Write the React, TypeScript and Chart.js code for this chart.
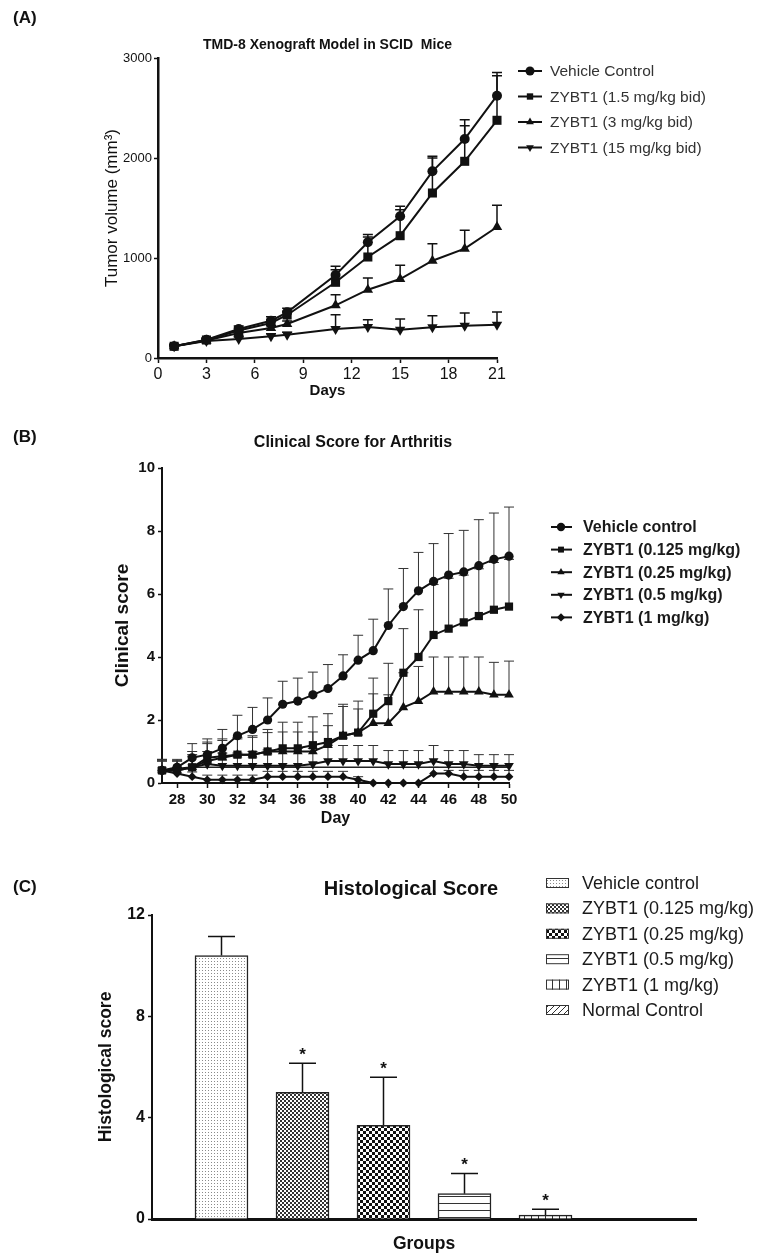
import React, { useEffect, useRef } from 'react';
import { Chart, registerables } from 'chart.js';

Chart.register(...registerables);

const FONT = '"Liberation Sans", Arial, Helvetica, sans-serif';
Chart.defaults.font.family = FONT;
Chart.defaults.color = '#1a1a1a';

/* ---------------- Panel A data ---------------- */
const titleA = 'TMD-8 Xenograft Model in SCID  Mice';
const seriesNamesA = ['Vehicle Control', 'ZYBT1 (1.5 mg/kg bid)', 'ZYBT1 (3 mg/kg bid)', 'ZYBT1 (15 mg/kg bid)'];
const daysA = [1, 3, 5, 7, 8, 11, 13, 15, 17, 19, 21];
const vehicleA = [117, 183, 290, 373, 457, 830, 1157, 1417, 1867, 2190, 2623];
const vehicleErrA = [10, 20, 30, 40, 40, 87, 77, 100, 150, 193, 233];
const zybtLowA = [117, 180, 275, 350, 430, 757, 1010, 1223, 1650, 1967, 2377];
const zybtLowErrA = [10, 15, 25, 30, 35, 126, 200, 260, 350, 356, 446];
const zybtMidA = [117, 175, 250, 300, 340, 527, 683, 790, 973, 1093, 1310];
const zybtMidErrA = [10, 15, 20, 25, 30, 106, 117, 137, 170, 184, 217];
const zybtHighA = [117, 170, 190, 217, 233, 290, 310, 283, 307, 323, 333];
const zybtHighErrA = [10, 15, 20, 25, 25, 143, 73, 107, 116, 127, 127];
const xTicksA = [0, 3, 6, 9, 12, 15, 18, 21];
const yTicksA = [0, 1000, 2000, 3000];

/* ---------------- Panel B data ---------------- */
const titleB = 'Clinical Score for Arthritis';
const seriesNamesB = ['Vehicle control', 'ZYBT1 (0.125 mg/kg)', 'ZYBT1 (0.25 mg/kg)', 'ZYBT1 (0.5 mg/kg)', 'ZYBT1 (1 mg/kg)'];
const daysB = [27, 28, 29, 30, 31, 32, 33, 34, 35, 36, 37, 38, 39, 40, 41, 42, 43, 44, 45, 46, 47, 48, 49, 50];
const vehicleB = [0.4, 0.5, 0.8, 0.9, 1.1, 1.5, 1.7, 2.0, 2.5, 2.6, 2.8, 3.0, 3.4, 3.9, 4.2, 5.0, 5.6, 6.1, 6.4, 6.6, 6.7, 6.9, 7.1, 7.2];
const vehicleErrB = [0.3, 0.25, 0.45, 0.5, 0.6, 0.65, 0.7, 0.7, 0.73, 0.73, 0.72, 0.76, 0.67, 0.79, 1.0, 1.16, 1.21, 1.22, 1.2, 1.32, 1.32, 1.46, 1.47, 1.56];
const dose0125B = [0.4, 0.45, 0.5, 0.8, 0.85, 0.9, 0.9, 1.0, 1.1, 1.1, 1.2, 1.3, 1.5, 1.6, 2.2, 2.6, 3.5, 4.0, 4.7, 4.9, 5.1, 5.3, 5.5, 5.6];
const dose0125ErrB = [0.35, 0.25, 0.5, 0.5, 0.55, 0.55, 0.6, 0.7, 0.83, 0.83, 0.9, 0.9, 1.0, 1.0, 1.13, 1.2, 1.4, 1.5, 1.6, 1.6, 1.5, 1.5, 1.5, 1.5];
const dose025B = [0.4, 0.4, 0.5, 0.7, 0.8, 0.9, 0.9, 1.0, 1.0, 1.0, 1.0, 1.2, 1.5, 1.6, 1.9, 1.9, 2.4, 2.6, 2.9, 2.9, 2.9, 2.9, 2.8, 2.8];
const dose025ErrB = [0.3, 0.3, 0.4, 0.55, 0.55, 0.5, 0.55, 0.6, 0.62, 0.62, 0.62, 0.62, 0.93, 0.75, 0.93, 0.9, 1.1, 1.1, 1.1, 1.1, 1.1, 1.1, 1.03, 1.07];
const dose05B = [0.4, 0.4, 0.5, 0.6, 0.55, 0.55, 0.55, 0.55, 0.55, 0.55, 0.6, 0.7, 0.7, 0.7, 0.7, 0.6, 0.6, 0.6, 0.7, 0.6, 0.6, 0.55, 0.55, 0.55];
const dose05ErrB = [0.35, 0.3, 0.35, 0.4, 0.4, 0.4, 0.45, 0.5, 0.55, 0.55, 0.5, 0.5, 0.49, 0.49, 0.49, 0.43, 0.43, 0.43, 0.49, 0.43, 0.43, 0.35, 0.35, 0.35];
const dose1B = [0.4, 0.3, 0.2, 0.1, 0.1, 0.1, 0.1, 0.2, 0.2, 0.2, 0.2, 0.2, 0.2, 0.1, 0, 0, 0, 0, 0.3, 0.3, 0.2, 0.2, 0.2, 0.2];
const dose1ErrB = [0.3, 0.2, 0.15, 0.15, 0.15, 0.15, 0.15, 0.17, 0.17, 0.17, 0.17, 0.17, 0.17, 0.1, 0, 0, 0, 0, 0.2, 0.1, 0.2, 0.2, 0.2, 0.2];
const flatLineB = [null, null, 0.5, 0.5, 0.5, 0.5, 0.5, 0.5, 0.5, 0.5, 0.5, 0.5, 0.5, 0.5, 0.5, 0.5, 0.5, 0.5, 0.5, 0.5, 0.5, 0.5, 0.5, 0.5];
const xTicksB = [28, 30, 32, 34, 36, 38, 40, 42, 44, 46, 48, 50];
const yTicksB = [0, 2, 4, 6, 8, 10];

/* ---------------- Panel C data ---------------- */
const titleC = 'Histological Score';
const groupsC = ['Vehicle control', 'ZYBT1 (0.125 mg/kg)', 'ZYBT1 (0.25 mg/kg)', 'ZYBT1 (0.5 mg/kg)', 'ZYBT1 (1 mg/kg)', 'Normal Control'];
const histoScoreC = [10.4, 5.0, 3.7, 1.0, 0.15, 0];
const histoErrC = [0.75, 1.15, 1.9, 0.8, 0.23, 0];
const histoSigC = ['', '*', '*', '*', '*', ''];
const patternKindsC = ['dots', 'fineCheck', 'check', 'hlines', 'vlines', 'diag'];
const yTicksC = [0, 4, 8, 12];

/* ---------------- helpers ---------------- */
const toPts = (xs: number[], ys: (number | null)[]) => xs.map((x, i) => ({ x, y: ys[i] }));

function drawMarker(ctx: CanvasRenderingContext2D, style: string, x: number, y: number, r: number) {
  ctx.beginPath();
  if (style === 'circle') {
    ctx.arc(x, y, r, 0, Math.PI * 2);
  } else if (style === 'rect') {
    const s = r * Math.SQRT1_2;
    ctx.rect(x - s, y - s, 2 * s, 2 * s);
  } else if (style === 'triangle') {
    ctx.moveTo(x, y - r);
    ctx.lineTo(x + 0.866 * r, y + 0.5 * r);
    ctx.lineTo(x - 0.866 * r, y + 0.5 * r);
  } else if (style === 'triangleDown') {
    ctx.moveTo(x, y + r);
    ctx.lineTo(x + 0.866 * r, y - 0.5 * r);
    ctx.lineTo(x - 0.866 * r, y - 0.5 * r);
  } else if (style === 'diamond') {
    ctx.moveTo(x, y - r);
    ctx.lineTo(x + r, y);
    ctx.lineTo(x, y + r);
    ctx.lineTo(x - r, y);
  }
  ctx.closePath();
  ctx.fill();
}

function errorBarPlugin(capHalf: number, lineWidth: number, color: string) {
  return {
    id: 'errorBars',
    beforeDatasetsDraw(chart: any) {
      const ctx = chart.ctx as CanvasRenderingContext2D;
      const yScale = chart.scales.y;
      ctx.save();
      ctx.strokeStyle = color;
      ctx.lineWidth = lineWidth;
      chart.data.datasets.forEach((ds: any, i: number) => {
        const errs = ds.errorBars as number[] | undefined;
        if (!errs) return;
        const meta = chart.getDatasetMeta(i);
        meta.data.forEach((el: any, j: number) => {
          const raw = ds.data[j];
          const v = typeof raw === 'number' ? raw : raw ? raw.y : null;
          const e = errs[j];
          if (v == null || !e) return;
          const yTop = yScale.getPixelForValue(v + e);
          ctx.beginPath();
          ctx.moveTo(el.x, el.y);
          ctx.lineTo(el.x, yTop);
          ctx.moveTo(el.x - capHalf, yTop);
          ctx.lineTo(el.x + capHalf, yTop);
          ctx.stroke();
        });
      });
      ctx.restore();
    },
  };
}

function makePattern(kind: string): CanvasPattern | string {
  const c = document.createElement('canvas');
  let w = 4;
  let h = 4;
  if (kind === 'dots') { w = 3; h = 3; }
  if (kind === 'check') { w = 6; h = 6; }
  if (kind === 'hlines') { w = 7; h = 7; }
  if (kind === 'vlines') { w = 7; h = 7; }
  if (kind === 'diag') { w = 6; h = 6; }
  c.width = w;
  c.height = h;
  const g = c.getContext('2d')!;
  g.fillStyle = '#ffffff';
  g.fillRect(0, 0, w, h);
  g.fillStyle = '#333';
  g.strokeStyle = '#333';
  if (kind === 'dots') {
    g.fillStyle = '#8a8a8a';
    g.fillRect(1, 1, 1, 1);
  } else if (kind === 'fineCheck') {
    g.fillRect(0, 0, 2, 2);
    g.fillRect(2, 2, 2, 2);
  } else if (kind === 'check') {
    g.fillStyle = '#111';
    g.fillRect(0, 0, 3, 3);
    g.fillRect(3, 3, 3, 3);
  } else if (kind === 'hlines') {
    g.fillRect(0, 6, 7, 1);
  } else if (kind === 'vlines') {
    g.fillRect(6, 0, 1, 7);
  } else if (kind === 'diag') {
    g.lineWidth = 1;
    g.beginPath();
    g.moveTo(-1, 7);
    g.lineTo(7, -1);
    g.moveTo(-1, 1);
    g.lineTo(1, -1);
    g.moveTo(5, 7);
    g.lineTo(7, 5);
    g.stroke();
  }
  const p = g.createPattern(c, 'repeat');
  return p || '#fff';
}

const axisCommon = (tickLength: number, borderWidth: number) => ({
  grid: { display: true, drawOnChartArea: false, drawTicks: true, tickLength, tickColor: '#111', tickWidth: 1.5, color: '#111' },
  border: { display: true, color: '#111', width: borderWidth },
});

/* ---------------- Panel A ---------------- */
function makeA(canvas: HTMLCanvasElement) {
  const series = [vehicleA, zybtLowA, zybtMidA, zybtHighA];
  const errs = [vehicleErrA, zybtLowErrA, zybtMidErrA, zybtHighErrA];
  const styles = ['circle', 'rect', 'triangle', 'triangle'];
  const rotations = [0, 0, 0, 180];
  const radii = [5, 6.4, 6, 6];
  const legendStyles = ['circle', 'rect', 'triangle', 'triangleDown'];
  const datasets = series.map((s, i) => ({
    label: seriesNamesA[i],
    data: toPts(daysA, s),
    errorBars: errs[i],
    borderColor: '#111',
    backgroundColor: '#111',
    pointBackgroundColor: '#111',
    pointBorderColor: '#111',
    pointBorderWidth: 0,
    pointStyle: styles[i],
    pointRotation: rotations[i],
    pointRadius: radii[i],
    borderWidth: 2,
    tension: 0,
    fill: false,
    clip: false,
  }));
  const decor = {
    id: 'decorA',
    afterDraw(chart: any) {
      const ctx = chart.ctx as CanvasRenderingContext2D;
      const area = chart.chartArea;
      ctx.save();
      ctx.fillStyle = '#111';
      ctx.font = `bold 14px ${FONT}`;
      ctx.textAlign = 'center';
      ctx.textBaseline = 'middle';
      ctx.fillText(titleA, (area.left + area.right) / 2, 45);
      ctx.textAlign = 'left';
      ctx.font = `15.5px ${FONT}`;
      seriesNamesA.forEach((name, i) => {
        const y = 71 + i * 25.5;
        ctx.strokeStyle = '#111';
        ctx.lineWidth = 2;
        ctx.beginPath();
        ctx.moveTo(518, y);
        ctx.lineTo(542, y);
        ctx.stroke();
        ctx.fillStyle = '#111';
        drawMarker(ctx, legendStyles[i], 530, y, 4.5);
        ctx.fillStyle = '#333';
        ctx.fillText(name, 550, y + 1);
      });
      ctx.restore();
    },
  };
  return new Chart(canvas, {
    type: 'line',
    data: { datasets: datasets as any },
    options: {
      animation: false,
      responsive: false,
      devicePixelRatio: 1,
      events: [],
      layout: { padding: { left: 0, top: 58, right: 273, bottom: 0 } },
      plugins: { legend: { display: false }, tooltip: { enabled: false }, title: { display: false } },
      scales: {
        x: {
          type: 'linear',
          min: 0,
          max: 21,
          afterBuildTicks: (s: any) => { s.ticks = xTicksA.map((v) => ({ value: v })); },
          afterFit: (s: any) => { s.height = 42; },
          ticks: { font: { size: 16 }, color: '#111', padding: 2, maxRotation: 0, autoSkip: false, callback: (v: any) => String(v) },
          title: { display: true, text: 'Days', font: { size: 15, weight: 'bold' }, color: '#111', padding: { top: 0, bottom: 0 } },
          ...axisCommon(5, 2.5),
        },
        y: {
          type: 'linear',
          min: 0,
          max: 3000,
          afterBuildTicks: (s: any) => { s.ticks = yTicksA.map((v) => ({ value: v })); },
          afterFit: (s: any) => { s.width = 158; },
          ticks: { font: { size: 13 }, color: '#111', padding: 2, callback: (v: any) => String(v) },
          title: { display: true, text: 'Tumor volume (mm³)', font: { size: 17 }, color: '#111', padding: { top: 102, bottom: 0 } },
          ...axisCommon(4, 2.5),
        },
      },
    } as any,
    plugins: [errorBarPlugin(5, 1.5, '#111'), decor],
  });
}

/* ---------------- Panel B ---------------- */
function makeB(canvas: HTMLCanvasElement) {
  const series = [vehicleB, dose0125B, dose025B, dose05B, dose1B];
  const errs = [vehicleErrB, dose0125ErrB, dose025ErrB, dose05ErrB, dose1ErrB];
  const styles = ['circle', 'rect', 'triangle', 'triangle', 'rectRot'];
  const rotations = [0, 0, 0, 180, 0];
  const radii = [4.6, 5.8, 5.6, 5.6, 4.4];
  const legendStyles = ['circle', 'rect', 'triangle', 'triangleDown', 'diamond'];
  const datasets: any[] = series.map((s, i) => ({
    label: seriesNamesB[i],
    data: toPts(daysB, s),
    errorBars: errs[i],
    borderColor: '#111',
    backgroundColor: '#111',
    pointBackgroundColor: '#111',
    pointBorderColor: '#111',
    pointBorderWidth: 0,
    pointStyle: styles[i],
    pointRotation: rotations[i],
    pointRadius: radii[i],
    borderWidth: 2,
    tension: 0,
    fill: false,
    clip: false,
  }));
  datasets.push({
    label: '',
    data: toPts(daysB, flatLineB),
    borderColor: '#222',
    borderWidth: 1.5,
    pointRadius: 0,
    fill: false,
    clip: false,
    spanGaps: false,
  });
  const decor = {
    id: 'decorB',
    afterDraw(chart: any) {
      const ctx = chart.ctx as CanvasRenderingContext2D;
      ctx.save();
      ctx.fillStyle = '#111';
      ctx.font = `bold 16px ${FONT}`;
      ctx.textAlign = 'center';
      ctx.textBaseline = 'middle';
      ctx.fillText(titleB, 353, 43);
      ctx.textAlign = 'left';
      ctx.font = `bold 16px ${FONT}`;
      seriesNamesB.forEach((name, i) => {
        const y = 127 + i * 22.6;
        ctx.strokeStyle = '#111';
        ctx.lineWidth = 2;
        ctx.beginPath();
        ctx.moveTo(551, y);
        ctx.lineTo(572, y);
        ctx.stroke();
        ctx.fillStyle = '#111';
        drawMarker(ctx, legendStyles[i], 561, y, 4.2);
        ctx.fillStyle = '#1a1a1a';
        ctx.fillText(name, 583, y + 1);
      });
      ctx.restore();
    },
  };
  return new Chart(canvas, {
    type: 'line',
    data: { datasets },
    options: {
      animation: false,
      responsive: false,
      devicePixelRatio: 1,
      events: [],
      layout: { padding: { left: 0, top: 68, right: 261, bottom: 0 } },
      plugins: { legend: { display: false }, tooltip: { enabled: false }, title: { display: false } },
      scales: {
        x: {
          type: 'linear',
          min: 27,
          max: 50,
          afterBuildTicks: (s: any) => { s.ticks = xTicksB.map((v) => ({ value: v })); },
          afterFit: (s: any) => { s.height = 57; },
          ticks: { font: { size: 15, weight: 'bold' }, color: '#111', padding: 3, maxRotation: 0, autoSkip: false, callback: (v: any) => String(v) },
          title: { display: true, text: 'Day', font: { size: 16, weight: 'bold' }, color: '#111', padding: { top: 0, bottom: 12 } },
          ...axisCommon(5, 2),
        },
        y: {
          type: 'linear',
          min: 0,
          max: 10,
          afterBuildTicks: (s: any) => { s.ticks = yTicksB.map((v) => ({ value: v })); },
          afterFit: (s: any) => { s.width = 162; },
          ticks: { font: { size: 15, weight: 'bold' }, color: '#111', padding: 3, callback: (v: any) => String(v) },
          title: { display: true, text: 'Clinical score', font: { size: 19, weight: 'bold' }, color: '#111', padding: { top: 111, bottom: 0 } },
          ...axisCommon(4, 2),
        },
      },
    } as any,
    plugins: [errorBarPlugin(5, 1, '#333'), decor],
  });
}

/* ---------------- Panel C ---------------- */
function makeC(canvas: HTMLCanvasElement) {
  const patterns = patternKindsC.map((k) => makePattern(k));
  const decor = {
    id: 'decorC',
    afterDraw(chart: any) {
      const ctx = chart.ctx as CanvasRenderingContext2D;
      const yScale = chart.scales.y;
      const meta = chart.getDatasetMeta(0);
      ctx.save();
      ctx.fillStyle = '#111';
      ctx.textAlign = 'center';
      ctx.font = `bold 17px ${FONT}`;
      ctx.textBaseline = 'alphabetic';
      histoSigC.forEach((sig, j) => {
        if (!sig) return;
        const el = meta.data[j];
        const yTop = yScale.getPixelForValue(histoScoreC[j] + histoErrC[j]);
        ctx.fillText(sig, el.x, yTop - 3);
      });
      ctx.textBaseline = 'middle';
      ctx.font = `bold 20px ${FONT}`;
      ctx.fillText(titleC, 411, 49);
      ctx.textAlign = 'left';
      ctx.font = `18px ${FONT}`;
      groupsC.forEach((name, i) => {
        const y = 43 + i * 25.4;
        ctx.fillStyle = patterns[i] as any;
        ctx.fillRect(546, y - 5, 23, 10);
        ctx.strokeStyle = '#333';
        ctx.lineWidth = 1;
        ctx.strokeRect(546.5, y - 4.5, 22, 9);
        ctx.fillStyle = '#1a1a1a';
        ctx.fillText(name, 582, y + 1);
      });
      ctx.restore();
    },
  };
  return new Chart(canvas, {
    type: 'bar',
    data: {
      datasets: [
        {
          label: 'Histological score',
          data: histoScoreC.map((v, i) => ({ x: i, y: v })),
          errorBars: histoErrC,
          backgroundColor: patterns as any,
          borderColor: '#222',
          borderWidth: 1.5,
          barThickness: 53,
        } as any,
      ],
    },
    options: {
      animation: false,
      responsive: false,
      devicePixelRatio: 1,
      events: [],
      layout: { padding: { left: 0, top: 75, right: 74, bottom: 0 } },
      plugins: { legend: { display: false }, tooltip: { enabled: false }, title: { display: false } },
      scales: {
        x: {
          type: 'linear',
          offset: false,
          min: -0.858,
          max: 5.858,
          afterFit: (s: any) => { s.height = 36; },
          ticks: { display: false },
          grid: { display: false, offset: false },
          border: { display: true, color: '#111', width: 3 },
          title: { display: true, text: 'Groups', font: { size: 17.5, weight: 'bold' }, color: '#111', padding: { top: 0, bottom: 0 } },
        },
        y: {
          type: 'linear',
          min: 0,
          max: 12,
          afterBuildTicks: (s: any) => { s.ticks = yTicksC.map((v) => ({ value: v })); },
          afterFit: (s: any) => { s.width = 152; },
          ticks: { font: { size: 16, weight: 'bold' }, color: '#111', padding: 3, callback: (v: any) => String(v) },
          title: { display: true, text: 'Histological score', font: { size: 17.5, weight: 'bold' }, color: '#111', padding: { top: 96, bottom: 0 } },
          ...axisCommon(4, 2),
        },
      },
    } as any,
    plugins: [errorBarPlugin(13.5, 1.5, '#111'), decor],
  });
}

function ChartCanvas({ top, height, make }: { top: number; height: number; make: (c: HTMLCanvasElement) => Chart }) {
  const ref = useRef<HTMLCanvasElement>(null);
  useEffect(() => {
    const chart = make(ref.current!);
    return () => chart.destroy();
  }, []);
  return (
    <canvas
      ref={ref}
      width={770}
      height={height}
      style={{ position: 'absolute', left: 0, top, width: 770, height, display: 'block' }}
    />
  );
}

const panelLabelStyle = (top: number): React.CSSProperties => ({
  position: 'absolute',
  left: 13,
  top,
  font: `bold 17px ${FONT}`,
  color: '#111',
  lineHeight: '20px',
});

export default function App() {
  return (
    <div style={{ position: 'absolute', left: 0, top: 0, width: 770, height: 1255, background: '#fff', overflow: 'hidden' }}>
      <ChartCanvas top={0} height={400} make={makeA} />
      <ChartCanvas top={400} height={440} make={makeB} />
      <ChartCanvas top={840} height={415} make={makeC} />
      <div style={panelLabelStyle(8)}>(A)</div>
      <div style={panelLabelStyle(427)}>(B)</div>
      <div style={panelLabelStyle(877)}>(C)</div>
    </div>
  );
}
